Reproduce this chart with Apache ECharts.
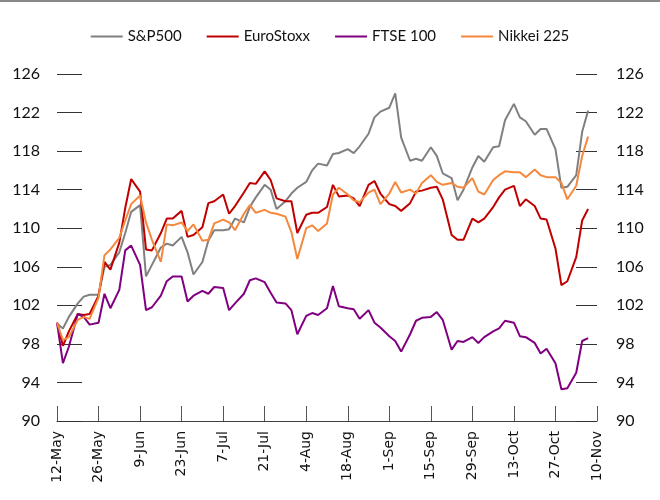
<!DOCTYPE html>
<html>
<head>
<meta charset="utf-8">
<script src="https://cdn.jsdelivr.net/npm/echarts@6/dist/echarts.min.js"></script>
<style>
html, body { margin: 0; padding: 0; background: #fff; }
#chart { width: 660px; height: 500px; }
</style>
</head>
<body>
<div id="chart"></div>
<script>
// day offsets from 12-May (Mon/Wed/Fri samples)
var days = [0,2,4,7,9,11,14,16,18,21,23,25,28,30,32,35,37,39,42,44,46,49,51,53,56,58,60,63,65,67,
	70,72,74,77,79,81,84,86,88,91,93,95,98,100,102,105,107,109,112,114,116,119,121,123,126,128,130,
	133,135,137,140,142,144,147,149,151,154,156,158,161,163,165,168,170,172,175,177,179];

var tickLabels = ['12-May','26-May','9-Jun','23-Jun','7-Jul','21-Jul','4-Aug','18-Aug','1-Sep',
	'15-Sep','29-Sep','13-Oct','27-Oct','10-Nov'];

var sp500 = [100.1,99.6,100.8, 102.2,102.9,103.1, 103.1,106,106.2, 107.5,109.5,111.7, 112.4,105,106.2,
	108,108.4,108.2, 109.1,107.5,105.2, 106.5,108.7,109.8, 109.8,109.9,111, 110.6,112.2,113.2,
	114.5,114,112, 112.8,113.6,114.2, 114.8,116,116.7, 116.5,117.7,117.8, 118.2,117.8,118.5,
	119.8,121.5,122.1, 122.5,124,119.4, 117,117.2,117, 118.4,117.5,115.7, 115.2,112.9,114,
	116.3,117.5,116.9, 118.4,118.5,121.2, 122.9,121.5,121.1, 119.7,120.3,120.3, 118.2,114.2,114.3,
	115.5,120,122.2];

var euroStoxx = [100.2,97.8,99.3, 101.1,101,101.1, 103,106.5,105.7, 108.5,112.1,115.1, 113.8,107.8,107.7,
	109.5,111,111, 111.8,109.1,109.3, 110.1,112.6,112.8, 113.5,111.5,112.3, 113.7,114.7,114.6,
	115.9,115,113.1, 112.8,112.8,109.5, 111.4,111.6,111.6, 112.2,114.5,113.3, 113.4,113.1,112.3,
	114.5,114.9,113.6, 112.5,112.3,111.8, 112.6,113.8,113.9, 114.2,114.3,113, 109.3,108.8,108.8,
	111,110.6,111, 112.2,113.2,114, 114.4,112.3,113, 112.3,111,110.9, 107.9,104.1,104.5,
	107,110.8,112];

var ftse = [100.2,96,97.7, 101.1,100.8,100, 100.2,103.2,101.7, 103.6,107.7,108.2, 106.2,101.5,101.8,
	103,104.5,105, 105,102.4,103, 103.5,103.2,103.9, 103.8,101.5,102.2, 103.2,104.6,104.8,
	104.4,103.3,102.3, 102.2,101.5,99, 100.9,101.2,101, 101.7,104,101.9, 101.7,101.6,100.6,
	101.5,100.2,99.7, 98.8,98.3,97.2, 99,100.4,100.7, 100.8,101.3,100.5, 97.4,98.3,98.2,
	98.7,98.1,98.7, 99.3,99.6,100.4, 100.2,98.8,98.7, 98.1,97,97.5, 96,93.3,93.4,
	95,98.3,98.6];

var nikkei = [100.2,98.4,98.7, 100.5,100.8,100.6, 102.8,107.2,107.8, 109,110.8,112.5, 113.4,110.6,108.8,
	106.5,110.4,110.3, 110.6,109.7,110.4, 108.7,108.8,110.5, 110.9,110.6,109.8, 111.5,112.4,111.6,
	111.9,111.6,111.5, 111.2,109.6,106.8, 110,110.3,109.7, 110.5,113.5,114.2, 113.5,112.9,112.7,
	113.7,114,112.5, 113.6,114.8,113.7, 114,113.6,114.7, 115.5,114.8,114.5, 114.7,114.3,114.2,
	115.2,113.8,113.5, 115,115.5,115.9, 115.8,115.8,115.3, 116.1,115.5,115.3, 115.3,114.7,113,
	114.4,117.5,119.5];

function pairs(arr) {
	return days.map(function(d, i) { return [d, arr[i]]; });
}

var chart = echarts.init(document.getElementById('chart'));

var yAxisBase = {
	type: 'value',
	min: 90,
	max: 126,
	interval: 4,
	splitLine: { show: false },
	axisLine: { show: false },
	axisTick: { show: true, inside: true, length: 25, lineStyle: { color: '#333', width: 1 } },
	axisLabel: { color: '#111', fontSize: 16, fontFamily: 'Lato' }
};

var option = {
	animation: false,
	backgroundColor: '#fff',
	color: ['#808080', '#c00000', '#800080', '#f5883c'],
	graphic: [{
		type: 'line',
		shape: { x1: 0, y1: 1, x2: 660, y2: 1 },
		style: { stroke: '#888', lineWidth: 2 }
	}],
	legend: {
		top: 24,
		left: 'center',
		icon: 'rect',
		itemWidth: 32,
		itemHeight: 2,
		itemGap: 25,
		textStyle: { color: '#111', fontSize: 15, fontFamily: 'Lato' },
		data: ['S&P500', 'EuroStoxx', 'FTSE 100', 'Nikkei 225']
	},
	grid: { left: 57, right: 63, top: 74, bottom: 79 },
	xAxis: {
		type: 'value',
		min: 0,
		max: 182,
		interval: 14,
		splitLine: { show: false },
		axisLine: { show: true, lineStyle: { color: '#404040', width: 1 } },
		axisTick: { show: true, inside: true, length: 15, lineStyle: { color: '#555' } },
		axisLabel: {
			rotate: 90,
			margin: 10,
			color: '#111',
			fontSize: 14,
			fontFamily: 'DejaVu Sans',
			formatter: function(v) { return tickLabels[Math.round(v / 14)]; }
		}
	},
	yAxis: [
		Object.assign({}, yAxisBase, {
			position: 'left',
			axisLabel: Object.assign({}, yAxisBase.axisLabel, { margin: 17 })
		}),
		Object.assign({}, yAxisBase, {
			position: 'right',
			axisTick: Object.assign({}, yAxisBase.axisTick, { length: 21 }),
			axisLabel: Object.assign({}, yAxisBase.axisLabel, { margin: 19 })
		})
	],
	series: [
		{ name: 'S&P500', type: 'line', data: pairs(sp500) },
		{ name: 'EuroStoxx', type: 'line', data: pairs(euroStoxx) },
		{ name: 'FTSE 100', type: 'line', data: pairs(ftse) },
		{ name: 'Nikkei 225', type: 'line', data: pairs(nikkei) }
	].map(function(s) {
		s.showSymbol = false;
		s.symbol = 'none';
		s.lineStyle = { width: 2 };
		return s;
	})
};

chart.setOption(option);
</script>
</body>
</html>
